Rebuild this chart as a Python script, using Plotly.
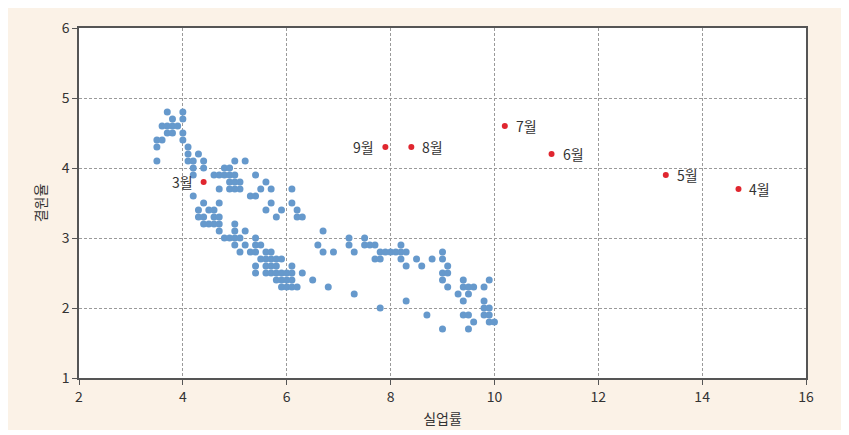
import plotly.graph_objects as go

# Blue points: (unemployment rate, vacancy rate)
blue_x = [3.7, 4.0,
          3.8, 4.0,
          3.6, 3.7, 3.8, 3.9,
          3.7, 3.8, 4.0,
          3.5, 3.6, 4.0,
          3.5, 4.1,
          4.1, 4.3,
          3.5, 4.1, 4.2, 4.4, 5.0, 5.2,
          4.2, 4.4, 4.8, 4.9,
          4.2, 4.6, 4.7, 4.8, 4.9, 5.0, 5.4,
          4.9, 5.0, 5.1, 5.6,
          4.7, 4.9, 5.0, 5.1, 5.5, 5.7, 6.1,
          4.2, 5.3, 5.4,
          4.4, 4.7, 5.7, 6.1,
          4.3, 4.5, 4.6, 5.6, 5.9, 6.2,
          4.3, 4.4, 4.6, 4.7, 5.8, 6.2, 6.3,
          4.4, 4.5, 4.6, 4.7, 5.0,
          4.7, 5.0, 5.2, 6.7,
          4.8, 4.9, 5.0, 5.1, 5.4, 7.2, 7.5,
          5.0, 5.2, 5.4, 5.5, 6.6, 7.2, 7.5, 7.6, 7.7, 8.2,
          5.1, 5.3, 5.4, 5.6, 5.7, 6.7, 6.9, 7.3, 7.8, 7.9, 8.0, 8.1, 8.2, 8.3, 9.0,
          5.5, 5.6, 5.7, 5.8, 5.9, 7.7, 7.8, 8.2, 8.5, 8.8, 9.0,
          5.4, 5.6, 5.7, 5.8, 6.1, 8.3, 8.6, 9.1,
          5.4, 5.6, 5.7, 5.8, 5.9, 6.0, 6.1, 6.3, 9.0, 9.1,
          5.8, 5.9, 6.0, 6.1, 6.5, 9.0, 9.4, 9.9,
          5.9, 6.0, 6.1, 6.2, 6.8, 9.1, 9.4, 9.5, 9.6, 9.8,
          7.3, 9.3, 9.5,
          8.3, 9.4, 9.8,
          7.8, 9.8, 9.9,
          8.7, 9.4, 9.5, 9.8, 9.9,
          9.6, 9.9, 10.0,
          9.0, 9.5]
blue_y = [4.8, 4.8,
          4.7, 4.7,
          4.6, 4.6, 4.6, 4.6,
          4.5, 4.5, 4.5,
          4.4, 4.4, 4.4,
          4.3, 4.3,
          4.2, 4.2,
          4.1, 4.1, 4.1, 4.1, 4.1, 4.1,
          4.0, 4.0, 4.0, 4.0,
          3.9, 3.9, 3.9, 3.9, 3.9, 3.9, 3.9,
          3.8, 3.8, 3.8, 3.8,
          3.7, 3.7, 3.7, 3.7, 3.7, 3.7, 3.7,
          3.6, 3.6, 3.6,
          3.5, 3.5, 3.5, 3.5,
          3.4, 3.4, 3.4, 3.4, 3.4, 3.4,
          3.3, 3.3, 3.3, 3.3, 3.3, 3.3, 3.3,
          3.2, 3.2, 3.2, 3.2, 3.2,
          3.1, 3.1, 3.1, 3.1,
          3.0, 3.0, 3.0, 3.0, 3.0, 3.0, 3.0,
          2.9, 2.9, 2.9, 2.9, 2.9, 2.9, 2.9, 2.9, 2.9, 2.9,
          2.8, 2.8, 2.8, 2.8, 2.8, 2.8, 2.8, 2.8, 2.8, 2.8, 2.8, 2.8, 2.8, 2.8, 2.8,
          2.7, 2.7, 2.7, 2.7, 2.7, 2.7, 2.7, 2.7, 2.7, 2.7, 2.7,
          2.6, 2.6, 2.6, 2.6, 2.6, 2.6, 2.6, 2.6,
          2.5, 2.5, 2.5, 2.5, 2.5, 2.5, 2.5, 2.5, 2.5, 2.5,
          2.4, 2.4, 2.4, 2.4, 2.4, 2.4, 2.4, 2.4,
          2.3, 2.3, 2.3, 2.3, 2.3, 2.3, 2.3, 2.3, 2.3, 2.3,
          2.2, 2.2, 2.2,
          2.1, 2.1, 2.1,
          2.0, 2.0, 2.0,
          1.9, 1.9, 1.9, 1.9, 1.9,
          1.8, 1.8, 1.8,
          1.7, 1.7]

# Red points (months)
month_labels = ["3월", "4월", "5월", "6월", "7월", "8월", "9월"]
month_x = [4.4, 14.7, 13.3, 11.1, 10.2, 8.4, 7.9]
month_y = [3.8, 3.7, 3.9, 4.2, 4.6, 4.3, 4.3]
label_side = ["left", "right", "right", "right", "right", "right", "left"]

x_ticks = [2, 4, 6, 8, 10, 12, 14, 16]
y_ticks = [1, 2, 3, 4, 5, 6]

FONT = "Noto Sans CJK KR"

fig = go.Figure()
fig.add_trace(go.Scatter(x=blue_x, y=blue_y, mode="markers",
                         marker=dict(color="#6699CC", size=7), hoverinfo="x+y"))
fig.add_trace(go.Scatter(x=month_x, y=month_y, mode="markers",
                         marker=dict(color="#E0262F", size=6), hoverinfo="x+y"))

annotations = []
for lab, mx, my, side in zip(month_labels, month_x, month_y, label_side):
    annotations.append(dict(
        x=mx, y=my, xref="x", yref="y", text=lab, showarrow=False,
        xanchor="right" if side == "left" else "left", yanchor="middle",
        xshift=-9 if side == "left" else 9,
        font=dict(family=FONT, size=14, color="#333333")))

fig.update_layout(
    width=835, height=422,
    margin=dict(l=71, r=37, t=20, b=52),
    paper_bgcolor="#FBF2E7", plot_bgcolor="white",
    showlegend=False,
    annotations=annotations,
    font=dict(family=FONT, size=14, color="#333333"),
    xaxis=dict(range=[2, 16], tickvals=x_ticks, showgrid=True, gridcolor="#9a9a9a",
               griddash="3px,2px", gridwidth=1, showline=True, linecolor="#555555",
               linewidth=1.5, mirror=True, ticks="outside", ticklen=5, tickcolor="#555555",
               zeroline=False, automargin=False, tickfont=dict(size=14, color="#333333"),
               title=dict(text="실업률", font=dict(size=14, color="#333333"), standoff=10)),
    yaxis=dict(range=[1, 6], tickvals=y_ticks, showgrid=True, gridcolor="#9a9a9a",
               griddash="3px,2px", gridwidth=1, showline=True, linecolor="#555555",
               linewidth=1.5, mirror=True, ticks="outside", ticklen=5, tickcolor="#555555",
               zeroline=False, automargin=False, tickfont=dict(size=14, color="#333333"),
               title=dict(text="결원율", font=dict(size=14, color="#333333"), standoff=12)),
)

fig.write_html("out.html")
